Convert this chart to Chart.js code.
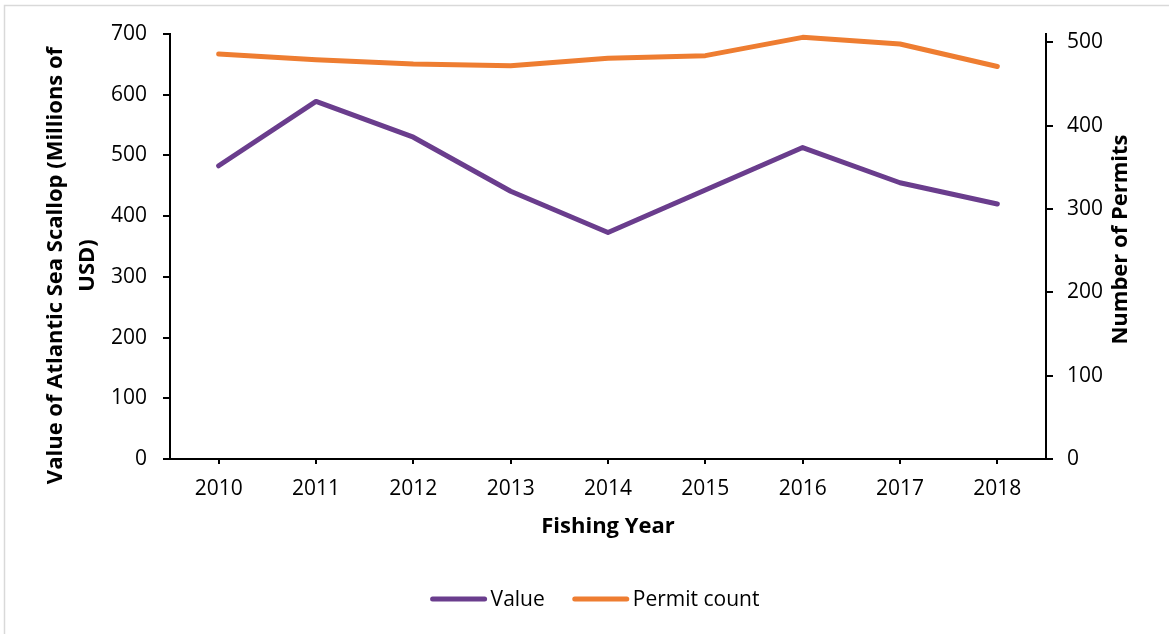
<!DOCTYPE html>
<html>
<head>
<meta charset="utf-8">
<script src="https://cdn.jsdelivr.net/npm/chart.js@4/dist/chart.umd.min.js"></script>
<style>
  html, body { margin: 0; padding: 0; background: #fff; }
  #wrap { position: relative; width: 1169px; height: 634px; }
  canvas { display: block; }
</style>
</head>
<body>
<div id="wrap"><canvas id="c" width="1169" height="634"></canvas></div>
<script>
// Atlantic sea scallop fishery by fishing year
const years = ['2010', '2011', '2012', '2013', '2014', '2015', '2016', '2017', '2018'];
const valueMillionsUSD = [483, 589, 530, 441, 373, 443, 513, 455, 420];
const permitCount = [486, 479, 474, 472, 481, 484, 506, 498, 471];

const valueTicks = [0, 100, 200, 300, 400, 500, 600, 700];
const permitTicks = [0, 100, 200, 300, 400, 500];

const FONT = '"Open Sans", "DejaVu Sans", sans-serif';
const PURPLE = '#6A3D8D';
const ORANGE = '#EE7D31';

// Axis titles, outer frame and legend drawn on the canvas
const decorations = {
  id: 'decorations',
  beforeDraw(chart) {
    const ctx = chart.ctx;
    ctx.save();
    ctx.fillStyle = '#fff';
    ctx.fillRect(0, 0, chart.width, chart.height);
    ctx.strokeStyle = '#d9d9d9';
    ctx.lineWidth = 1.5;
    ctx.beginPath();
    ctx.moveTo(4.5, chart.height);
    ctx.lineTo(4.5, 5.5);
    ctx.lineTo(chart.width, 5.5);
    ctx.stroke();
    ctx.restore();
  },
  afterDraw(chart) {
    const ctx = chart.ctx;
    const a = chart.chartArea;
    ctx.save();
    ctx.fillStyle = '#000';
    ctx.textAlign = 'center';
    ctx.textBaseline = 'middle';
    ctx.font = 'bold 22px ' + FONT;

    // x axis title
    ctx.fillText('Fishing Year', (a.left + a.right) / 2, 527);

    // left axis title (two lines)
    ctx.save();
    ctx.translate(72, (a.top + a.bottom) / 2 + 19);
    ctx.rotate(-Math.PI / 2);
    ctx.fillText('Value of Atlantic Sea Scallop (Millions of', 0, -16);
    ctx.fillText('USD)', 0, 16);
    ctx.restore();

    // right axis title
    ctx.save();
    ctx.translate(1121, (a.top + a.bottom) / 2 - 7);
    ctx.rotate(-Math.PI / 2);
    ctx.fillText('Number of Permits', 0, 0);
    ctx.restore();

    // legend
    ctx.font = '21px ' + FONT;
    ctx.textAlign = 'left';
    const sample = 56, gapText = 4, gapItem = 28, y = 599;
    const items = chart.data.datasets.map(d => ({ label: d.label, color: d.borderColor }));
    let total = 0;
    items.forEach((it, i) => {
      it.w = sample + gapText + ctx.measureText(it.label).width;
      total += it.w + (i ? gapItem : 0);
    });
    let x = 595 - total / 2;
    items.forEach(it => {
      ctx.strokeStyle = it.color;
      ctx.lineWidth = 5;
      ctx.lineCap = 'round';
      ctx.beginPath();
      ctx.moveTo(x + 2, y);
      ctx.lineTo(x + sample - 2, y);
      ctx.stroke();
      ctx.fillStyle = '#000';
      ctx.fillText(it.label, x + sample + gapText, y + 1);
      x += it.w + gapItem;
    });
    ctx.restore();
  }
};

new Chart(document.getElementById('c'), {
  type: 'line',
  data: {
    labels: years,
    datasets: [
      {
        label: 'Value',
        data: valueMillionsUSD,
        yAxisID: 'y',
        borderColor: PURPLE,
        backgroundColor: PURPLE,
        borderWidth: 5,
        borderCapStyle: 'round',
        borderJoinStyle: 'round',
        pointRadius: 0,
        tension: 0
      },
      {
        label: 'Permit count',
        data: permitCount,
        yAxisID: 'y1',
        borderColor: ORANGE,
        backgroundColor: ORANGE,
        borderWidth: 5,
        borderCapStyle: 'round',
        borderJoinStyle: 'round',
        pointRadius: 0,
        tension: 0
      }
    ]
  },
  options: {
    responsive: false,
    animation: false,
    layout: { padding: { top: 34, left: 0, right: 0, bottom: 0 } },
    plugins: {
      legend: { display: false },
      tooltip: { enabled: false }
    },
    scales: {
      x: {
        type: 'category',
        offset: true,
        grid: { drawOnChartArea: false, drawTicks: true, tickLength: 5, color: '#000', lineWidth: 2 },
        border: { color: '#000', width: 2 },
        ticks: { color: '#000', font: { family: FONT, size: 21 }, padding: 12, maxRotation: 0 },
        afterFit(s) { s.height = 175; }
      },
      y: {
        position: 'left',
        min: 0,
        max: 700,
        afterBuildTicks(s) { s.ticks = valueTicks.map(v => ({ value: v })); },
        grid: { drawOnChartArea: false, drawTicks: true, tickLength: 7, color: '#000', lineWidth: 2 },
        border: { color: '#000', width: 2 },
        ticks: { color: '#000', font: { family: FONT, size: 21 }, padding: 16 },
        afterFit(s) { s.width = 170; }
      },
      y1: {
        position: 'right',
        min: 0,
        max: 510,
        afterBuildTicks(s) { s.ticks = permitTicks.map(v => ({ value: v })); },
        grid: { drawOnChartArea: false, drawTicks: true, tickLength: 7, color: '#000', lineWidth: 2 },
        border: { color: '#000', width: 2 },
        ticks: { color: '#000', font: { family: FONT, size: 21 }, padding: 14 },
        afterFit(s) { s.width = 123; }
      }
    }
  },
  plugins: [decorations]
});
</script>
</body>
</html>
